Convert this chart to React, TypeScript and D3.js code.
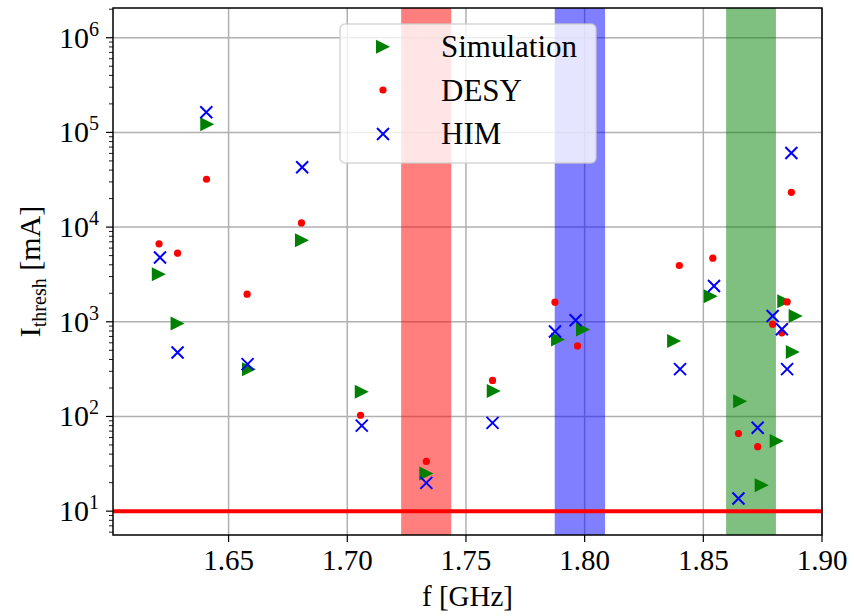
import * as d3 from 'd3';
import React from 'react';

// frequencies [GHz] and thresholds [mA]
const simF = [1.6206, 1.6285, 1.641, 1.6586, 1.6809, 1.7061, 1.7333, 1.7617, 1.7888, 1.7993, 1.8377, 1.8531, 1.8655, 1.8809, 1.8746, 1.8841, 1.8889, 1.8877];
const simI = [3180, 960, 122000, 316, 7280, 182, 25, 186, 650, 830, 628, 1860, 145, 55, 18.8, 1650, 1150, 481];

const desyF = [1.6207, 1.6285, 1.6407, 1.6578, 1.6807, 1.7056, 1.7333, 1.7612, 1.7875, 1.797, 1.8399, 1.854, 1.8648, 1.8729, 1.8792, 1.8831, 1.8853, 1.8871];
const desyI = [6650, 5300, 32000, 1955, 11070, 103, 33.5, 240, 1610, 556, 3930, 4700, 66, 48, 944, 764, 1620, 23300];

const himF = [1.6211, 1.6285, 1.6406, 1.658, 1.681, 1.7061, 1.7333, 1.7612, 1.7875, 1.7962, 1.8402, 1.8545, 1.8648, 1.8729, 1.8792, 1.8831, 1.8853, 1.8871];
const himI = [4780, 474, 163000, 357, 42900, 80, 19.9, 85.5, 790, 1040, 316, 2390, 13.6, 76, 1150, 835, 316, 60700];

// shaded frequency bands
const bands = [
  { from: 1.7227, to: 1.7438, color: 'red' },
  { from: 1.7874, to: 1.8086, color: 'blue' },
  { from: 1.8596, to: 1.8806, color: 'green' },
];
const limit = 10;

const xTicks = [1.65, 1.7, 1.75, 1.8, 1.85, 1.9];
const yTicks = [1e1, 1e2, 1e3, 1e4, 1e5, 1e6];

const legendItems = ['Simulation', 'DESY', 'HIM'];

const W = 854;
const H = 616;
const left = 113;
const right = 822;
const top = 8;
const bottom = 535;
const font = '"Liberation Serif", "DejaVu Serif", serif';

const x = d3.scaleLinear([1.6013, 1.9], [left, right]);
const y = d3.scaleLog([5.6, 2.06e6], [bottom, top]);

const minorTicks: number[] = [];
for (let e = 0; e <= 6; e++) {
  for (let m = 2; m <= 9; m++) {
    const v = m * Math.pow(10, e);
    if (v > y.domain()[0] && v < y.domain()[1]) minorTicks.push(v);
  }
}

const Tri = ({ cx, cy }: { cx: number; cy: number }) => (
  <path d={`M${cx - 7},${cy - 7}L${cx + 7},${cy}L${cx - 7},${cy + 7}Z`} fill="green" />
);
const Dot = ({ cx, cy }: { cx: number; cy: number }) => <circle cx={cx} cy={cy} r={3.6} fill="red" />;
const Cross = ({ cx, cy }: { cx: number; cy: number }) => (
  <path d={`M${cx - 6},${cy - 6}L${cx + 6},${cy + 6}M${cx - 6},${cy + 6}L${cx + 6},${cy - 6}`} stroke="blue" strokeWidth={2} />
);

export default function App() {
  const exp = (v: number) => Math.round(Math.log10(v));
  return (
    <svg width={W} height={H} style={{ position: 'absolute', left: 0, top: 0, background: 'white' }} fontFamily={font}>
      <rect x={0} y={0} width={W} height={H} fill="white" />
      <defs>
        <clipPath id="plot">
          <rect x={left} y={top} width={right - left} height={bottom - top} />
        </clipPath>
      </defs>

      {/* grid */}
      <g stroke="#b0b0b0" strokeWidth={1.5}>
        {xTicks.map((t) => (
          <line key={t} x1={x(t)} x2={x(t)} y1={top} y2={bottom} />
        ))}
        {yTicks.map((t) => (
          <line key={t} x1={left} x2={right} y1={y(t)} y2={y(t)} />
        ))}
      </g>

      {/* bands */}
      {bands.map((b) => (
        <rect key={b.color} x={x(b.from)} width={x(b.to) - x(b.from)} y={top} height={bottom - top} fill={b.color} opacity={0.5} />
      ))}

      <g clipPath="url(#plot)">
        <line x1={left} x2={right} y1={y(limit)} y2={y(limit)} stroke="red" strokeWidth={4} />
        {simF.map((f, i) => (
          <Tri key={'s' + i} cx={x(f)} cy={y(simI[i])} />
        ))}
        {desyF.map((f, i) => (
          <Dot key={'d' + i} cx={x(f)} cy={y(desyI[i])} />
        ))}
        {himF.map((f, i) => (
          <Cross key={'h' + i} cx={x(f)} cy={y(himI[i])} />
        ))}
      </g>

      {/* frame */}
      <rect x={left} y={top} width={right - left} height={bottom - top} fill="none" stroke="black" strokeWidth={1.5} />

      {/* x axis */}
      <g fontSize={29} textAnchor="middle">
        {xTicks.map((t) => (
          <g key={t}>
            <line x1={x(t)} x2={x(t)} y1={bottom} y2={bottom + 7} stroke="black" strokeWidth={1.2} />
            <text x={x(t)} y={570}>
              {t.toFixed(2)}
            </text>
          </g>
        ))}
        <text x={(left + right) / 2} y={606}>
          f [GHz]
        </text>
      </g>

      {/* y axis */}
      <g stroke="black">
        {yTicks.map((t) => (
          <line key={t} x1={left - 7} x2={left} y1={y(t)} y2={y(t)} strokeWidth={1.2} />
        ))}
        {minorTicks.map((t) => (
          <line key={t} x1={left - 4} x2={left} y1={y(t)} y2={y(t)} strokeWidth={0.9} />
        ))}
      </g>
      <g fontSize={30} textAnchor="end">
        {yTicks.map((t) => (
          <text key={t} x={99} y={y(t) + 10}>
            10
            <tspan fontSize={20} dy={-12}>
              {exp(t)}
            </tspan>
          </text>
        ))}
      </g>
      <text transform={`translate(40,${(top + bottom) / 2}) rotate(-90)`} fontSize={30} textAnchor="middle">
        I
        <tspan fontSize={20} dy={6}>
          thresh
        </tspan>
        <tspan dy={-6}> [mA]</tspan>
      </text>

      {/* legend */}
      <g>
        <rect x={340} y={24} width={256} height={139} rx={5} fill="white" fillOpacity={0.8} stroke="#cccccc" strokeOpacity={0.8} strokeWidth={1.5} />
        <Tri cx={383} cy={46.7} />
        <Dot cx={383} cy={90} />
        <Cross cx={383} cy={134} />
        {legendItems.map((s, i) => (
          <text key={s} x={441} y={57 + i * 43.7} fontSize={31}>
            {s}
          </text>
        ))}
      </g>
    </svg>
  );
}
